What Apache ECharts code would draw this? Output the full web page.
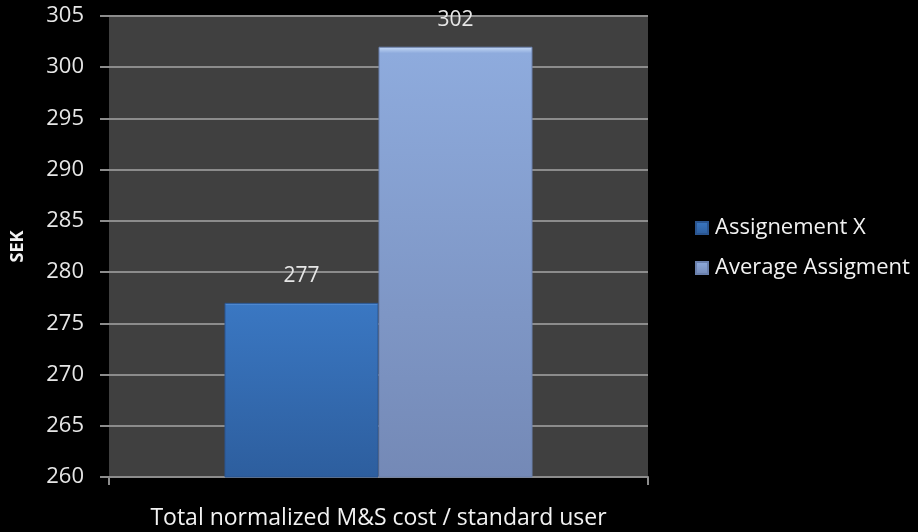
<!DOCTYPE html>
<html>
<head>
<meta charset="utf-8">
<script src="https://cdn.jsdelivr.net/npm/echarts@6/dist/echarts.min.js"></script>
<style>
  html, body { margin: 0; padding: 0; background: #000; }
  #chart { width: 918px; height: 532px; }
</style>
</head>
<body>
<div id="chart"></div>
<script>
// Cost per standard user, SEK
const categories = ['Total normalized M&S cost / standard user'];
const seriesNames = ['Assignement X', 'Average Assigment'];
const assignmentX = [277];
const averageAssignment = [302];
const yTicks = [260, 265, 270, 275, 280, 285, 290, 295, 300, 305];

const FONT = '"Open Sans", Lato, sans-serif';

// vertical fill with a thin bright bevel along the top edge
function grad(hi, top, bottom) {
  return new echarts.graphic.LinearGradient(0, 0, 0, 1, [
    { offset: 0, color: hi },
    { offset: 0.015, color: top },
    { offset: 1, color: bottom }
  ]);
}

const chart = echarts.init(document.getElementById('chart'), null, { renderer: 'canvas' });
chart.setOption({
  backgroundColor: '#000',
  animation: false,
  grid: {
    left: 109, right: 270, top: 16, bottom: 55,
    show: true, backgroundColor: '#404040', borderWidth: 0
  },
  legend: {
    orient: 'vertical',
    left: 690, top: 212,
    itemWidth: 12, itemHeight: 12, itemGap: 18,
    icon: 'rect',
    textStyle: { color: '#f2f2f2', fontSize: 22, fontFamily: FONT, padding: [0, 0, 0, 2] },
    data: seriesNames
  },
  xAxis: {
    type: 'category',
    data: categories,
    axisLine: { show: true, lineStyle: { color: '#8c8c8c', width: 2 } },
    axisTick: { show: true, length: 8, lineStyle: { color: '#8c8c8c', width: 2 } },
    axisLabel: { color: '#f2f2f2', fontSize: 23, fontFamily: FONT, margin: 30 }
  },
  yAxis: {
    type: 'value',
    min: yTicks[0], max: yTicks[yTicks.length - 1], interval: 5,
    name: 'SEK',
    nameLocation: 'middle',
    nameRotate: 90,
    nameGap: 82,
    nameTextStyle: { color: '#f2f2f2', fontSize: 18, fontWeight: 'bold', fontFamily: FONT },
    axisLine: { show: false },
    axisTick: { show: true, length: 9, lineStyle: { color: '#8c8c8c', width: 2 } },
    axisLabel: { color: '#e6e6e6', fontSize: 22, fontFamily: FONT, margin: 25 },
    splitLine: { show: true, lineStyle: { color: '#8c8c8c', width: 2 } }
  },
  series: [
    {
      name: seriesNames[0],
      type: 'bar',
      data: assignmentX,
      barWidth: 154,
      barGap: '0%',
      itemStyle: {
        color: grad('#6fa3e6', '#3a77c2', '#2d5e9e'),
        borderColor: '#2a5590', borderWidth: 1
      },
      label: {
        show: true, position: 'top', distance: 16,
        color: '#e6e6e6', fontSize: 21, fontFamily: FONT
      }
    },
    {
      name: seriesNames[1],
      type: 'bar',
      data: averageAssignment,
      barWidth: 154,
      barGap: '0%',
      itemStyle: {
        color: grad('#c7dbf7', '#8eabdd', '#7489b6'),
        borderColor: '#6a80ad', borderWidth: 1
      },
      label: {
        show: true, position: 'top', distance: 16,
        color: '#e6e6e6', fontSize: 21, fontFamily: FONT
      }
    }
  ]
});
</script>
</body>
</html>
